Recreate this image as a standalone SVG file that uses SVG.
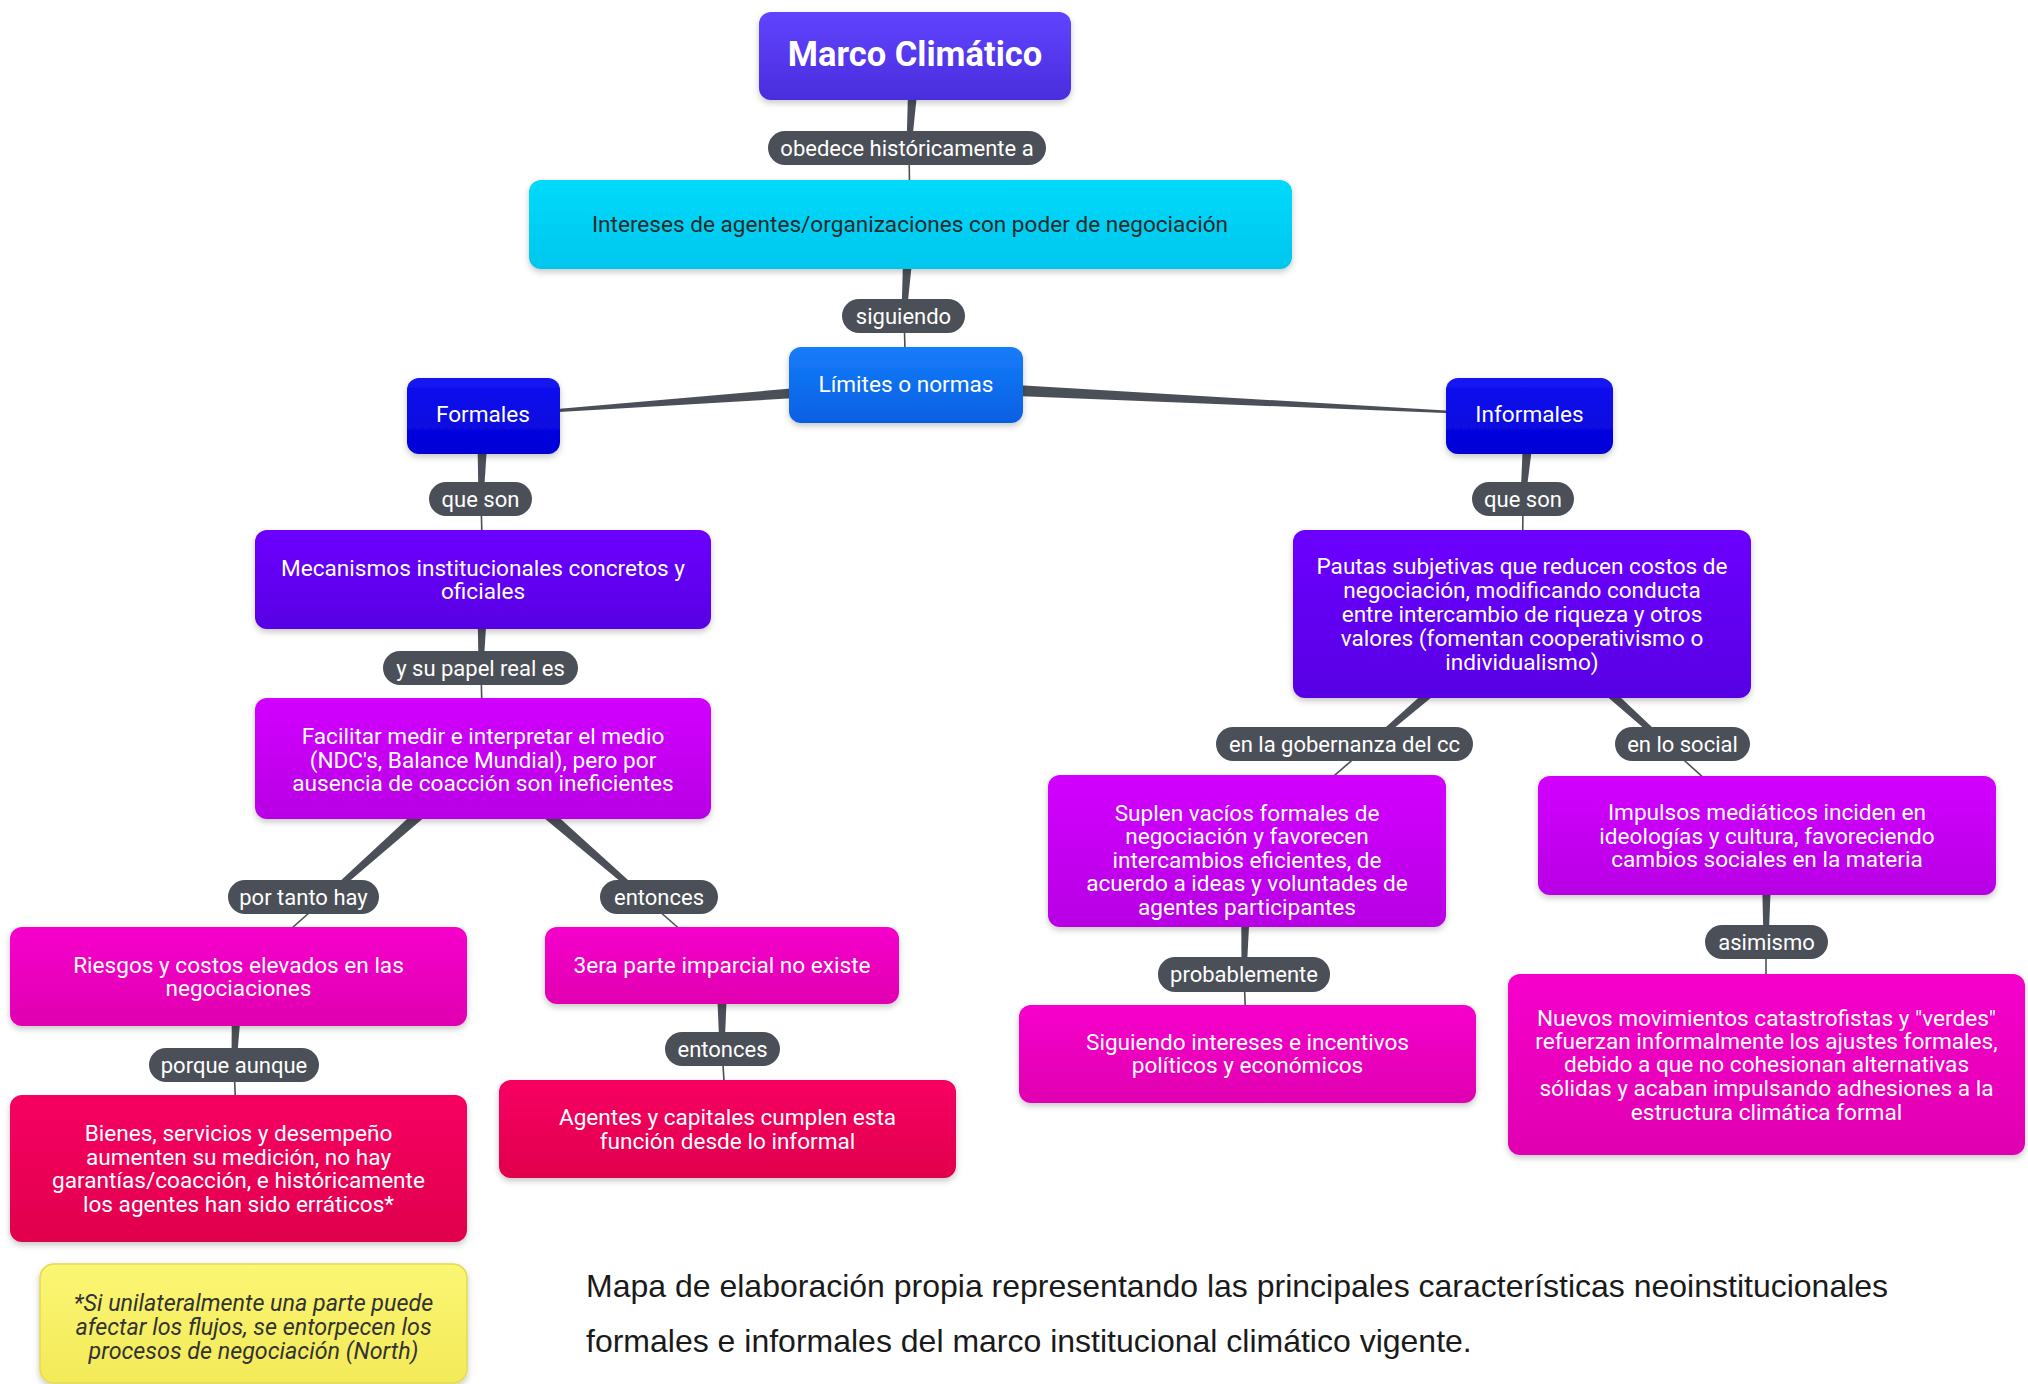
<svg xmlns="http://www.w3.org/2000/svg" width="2028" height="1384" viewBox="0 0 2028 1384">
<defs>
  <linearGradient id="gMarco" x1="0" y1="0" x2="0" y2="1"><stop offset="0" stop-color="#6044ff"/><stop offset="1" stop-color="#4a2ddc"/></linearGradient>
  <linearGradient id="gCyan" x1="0" y1="0" x2="0" y2="1"><stop offset="0" stop-color="#00dafc"/><stop offset="1" stop-color="#00c6ec"/></linearGradient>
  <linearGradient id="gLim" x1="0" y1="0" x2="0" y2="1"><stop offset="0" stop-color="#167cfa"/><stop offset="1" stop-color="#0660e2"/></linearGradient>
  <linearGradient id="gBlue" x1="0" y1="0" x2="0" y2="1"><stop offset="0" stop-color="#1414f2"/><stop offset="1" stop-color="#0000d6"/></linearGradient>
  <linearGradient id="gViolet" x1="0" y1="0" x2="0" y2="1"><stop offset="0" stop-color="#6c00ff"/><stop offset="1" stop-color="#5800e4"/></linearGradient>
  <linearGradient id="gPurple" x1="0" y1="0" x2="0" y2="1"><stop offset="0" stop-color="#d200ff"/><stop offset="1" stop-color="#b800e4"/></linearGradient>
  <linearGradient id="gPink" x1="0" y1="0" x2="0" y2="1"><stop offset="0" stop-color="#f600cc"/><stop offset="1" stop-color="#e000b0"/></linearGradient>
  <linearGradient id="gRed" x1="0" y1="0" x2="0" y2="1"><stop offset="0" stop-color="#f70062"/><stop offset="1" stop-color="#e0004c"/></linearGradient>
  <linearGradient id="gYellow" x1="0" y1="0" x2="0" y2="1"><stop offset="0" stop-color="#fbf674"/><stop offset="1" stop-color="#f3ea58"/></linearGradient>
  <filter id="sh" x="-10%" y="-20%" width="120%" height="150%">
    <feDropShadow dx="0" dy="3" stdDeviation="3" flood-color="#000" flood-opacity="0.22"/>
  </filter>
</defs>
<style>
  .box { filter: url(#sh); }
  .t { font-family: Roboto, "Noto Sans", sans-serif; font-size: 22.6px; fill: #ffffff; text-anchor: middle; }
  .dark { fill: #2b2b2b; }
  .note { font-family: Roboto, "Noto Sans", sans-serif; font-size: 23.3px; font-style: italic; fill: #333333; text-anchor: middle; }
  .title { font-family: Roboto, "Noto Sans", sans-serif; font-size: 34.5px; font-weight: bold; fill: #ffffff; text-anchor: middle; }
  .pill { fill: #4b4f58; }
  .lt { font-family: Roboto, "Noto Sans", sans-serif; font-size: 22px; fill: #ffffff; text-anchor: middle; }
  .thick { fill: #4b4f58; }
  .thin { stroke: #4b4f58; stroke-width: 1.6; fill: none; }
  .cap { font-family: "Liberation Sans", Arial, sans-serif; font-size: 32px; fill: #1a1a1a; }
</style>
<rect x="0" y="0" width="2028" height="1384" fill="#ffffff"/>

<g id="connectors">
  <polygon class="thick" points="909,56 921,56 911.5,147 906.5,147"/>
  <line class="thin" x1="909" y1="147" x2="910" y2="224"/>
  <polygon class="thick" points="904,224 916,224 906.5,315 901.5,315"/>
  <line class="thin" x1="904" y1="315" x2="906" y2="385"/>
  <polygon class="thick" points="905.5,378.5 483,415.5 483,416.5 906.5,391.5"/>
  <polygon class="thick" points="905.7,391.5 1530,416.5 1530,415.5 906.3,378.5"/>
  <polygon class="thick" points="477,416 489,416 483.5,499 478.5,499"/>
  <line class="thin" x1="481" y1="499" x2="483" y2="579"/>
  <polygon class="thick" points="477,579 489,579 483.5,667 478.5,667"/>
  <line class="thin" x1="481" y1="667" x2="483" y2="758"/>
  <polygon class="thick" points="478.3,752.8 326.3,894.1 329.7,897.9 487.7,763.2"/>
  <line class="thin" x1="328" y1="896" x2="238" y2="976"/>
  <polygon class="thick" points="478.4,763.3 641.4,898.9 644.6,895.1 487.6,752.7"/>
  <line class="thin" x1="643" y1="897" x2="722" y2="966"/>
  <polygon class="thick" points="232,976 244,976 236.5,1064 231.5,1064"/>
  <line class="thin" x1="234" y1="1064" x2="238" y2="1168"/>
  <polygon class="thick" points="716,966 728,966 724.5,1049 719.5,1049"/>
  <line class="thin" x1="722" y1="1049" x2="727" y2="1129"/>
  <polygon class="thick" points="1524,416 1536,416 1525.5,499 1520.5,499"/>
  <line class="thin" x1="1523" y1="499" x2="1522" y2="614"/>
  <polygon class="thick" points="1517.4,608.7 1370.4,741.1 1373.6,744.9 1526.6,619.3"/>
  <line class="thin" x1="1372" y1="743" x2="1247" y2="851"/>
  <polygon class="thick" points="1517.3,619.2 1663.3,744.9 1666.7,741.1 1526.7,608.8"/>
  <line class="thin" x1="1665" y1="743" x2="1767" y2="835"/>
  <polygon class="thick" points="1241,851 1253,851 1246.5,974 1241.5,974"/>
  <line class="thin" x1="1244" y1="974" x2="1247" y2="1053"/>
  <polygon class="thick" points="1761,835 1773,835 1768.5,941 1763.5,941"/>
  <line class="thin" x1="1766" y1="941" x2="1766" y2="1064"/>
</g>

<g id="labels">
  <g id="lbl-obedece"><rect class="pill" x="768" y="131" width="278" height="34" rx="17"/><text class="lt" x="907" y="155.5">obedece históricamente a</text></g>
  <g id="lbl-siguiendo"><rect class="pill" x="842" y="299" width="123" height="34" rx="17"/><text class="lt" x="903.5" y="323.5">siguiendo</text></g>
  <g id="lbl-queson1"><rect class="pill" x="429" y="482" width="103" height="34" rx="17"/><text class="lt" x="480.5" y="506.5">que son</text></g>
  <g id="lbl-papel"><rect class="pill" x="383" y="651" width="195" height="34" rx="17"/><text class="lt" x="480.5" y="675.5">y su papel real es</text></g>
  <g id="lbl-portanto"><rect class="pill" x="228" y="880" width="151" height="34" rx="17"/><text class="lt" x="303.5" y="904.5">por tanto hay</text></g>
  <g id="lbl-entonces1"><rect class="pill" x="600" y="880" width="118" height="34" rx="17"/><text class="lt" x="659" y="904.5">entonces</text></g>
  <g id="lbl-porque"><rect class="pill" x="149" y="1048" width="170" height="34" rx="17"/><text class="lt" x="234" y="1072.5">porque aunque</text></g>
  <g id="lbl-entonces2"><rect class="pill" x="665" y="1032" width="115" height="34" rx="17"/><text class="lt" x="722.5" y="1056.5">entonces</text></g>
  <g id="lbl-queson2"><rect class="pill" x="1472" y="482" width="102" height="34" rx="17"/><text class="lt" x="1523" y="506.5">que son</text></g>
  <g id="lbl-gobernanza"><rect class="pill" x="1216" y="727" width="257" height="34" rx="17"/><text class="lt" x="1344.5" y="751.5">en la gobernanza del cc</text></g>
  <g id="lbl-social"><rect class="pill" x="1615" y="727" width="135" height="34" rx="17"/><text class="lt" x="1682.5" y="751.5">en lo social</text></g>
  <g id="lbl-probablemente"><rect class="pill" x="1158" y="957" width="172" height="35" rx="17"/><text class="lt" x="1244" y="982">probablemente</text></g>
  <g id="lbl-asimismo"><rect class="pill" x="1705" y="925" width="123" height="34" rx="17"/><text class="lt" x="1766.5" y="949.5">asimismo</text></g>
</g>

<g id="n-marco"><rect class="box" x="759" y="12" width="312" height="88" rx="12" fill="url(#gMarco)"/><text class="title" x="915" y="66">Marco Climático</text></g>
<g id="n-intereses"><rect class="box" x="529" y="180" width="763" height="89" rx="12" fill="url(#gCyan)"/><text class="t dark" x="910" y="232">Intereses de agentes/organizaciones con poder de negociación</text></g>
<g id="n-limites"><rect class="box" x="789" y="347" width="234" height="76" rx="12" fill="url(#gLim)"/><text class="t" x="906" y="392">Límites o normas</text></g>
<g id="n-formales"><rect class="box" x="407" y="378" width="153" height="76" rx="12" fill="url(#gBlue)"/><text class="t" x="483" y="422">Formales</text></g>
<g id="n-informales"><rect class="box" x="1446" y="378" width="167" height="76" rx="12" fill="url(#gBlue)"/><text class="t" x="1529.5" y="422">Informales</text></g>
<g id="n-mecanismos"><rect class="box" x="255" y="530" width="456" height="99" rx="12" fill="url(#gViolet)"/>
  <text class="t" x="483"><tspan x="483" y="575.5">Mecanismos institucionales concretos y</tspan><tspan x="483" y="599">oficiales</tspan></text></g>
<g id="n-facilitar"><rect class="box" x="255" y="698" width="456" height="121" rx="12" fill="url(#gPurple)"/>
  <text class="t"><tspan x="483" y="744">Facilitar medir e interpretar el medio</tspan><tspan x="483" y="767.5">(NDC's, Balance Mundial), pero por</tspan><tspan x="483" y="791">ausencia de coacción son ineficientes</tspan></text></g>
<g id="n-riesgos"><rect class="box" x="10" y="927" width="457" height="99" rx="12" fill="url(#gPink)"/>
  <text class="t"><tspan x="238.5" y="972.5">Riesgos y costos elevados en las</tspan><tspan x="238.5" y="996">negociaciones</tspan></text></g>
<g id="n-tercera"><rect class="box" x="545" y="927" width="354" height="77" rx="12" fill="url(#gPink)"/><text class="t" x="722" y="973">3era parte imparcial no existe</text></g>
<g id="n-bienes"><rect class="box" x="10" y="1095" width="457" height="147" rx="12" fill="url(#gRed)"/>
  <text class="t"><tspan x="238.5" y="1141">Bienes, servicios y desempeño</tspan><tspan x="238.5" y="1164.5">aumenten su medición, no hay</tspan><tspan x="238.5" y="1188">garantías/coacción, e históricamente</tspan><tspan x="238.5" y="1211.5">los agentes han sido erráticos*</tspan></text></g>
<g id="n-agentes"><rect class="box" x="499" y="1080" width="457" height="98" rx="12" fill="url(#gRed)"/>
  <text class="t"><tspan x="727.5" y="1125">Agentes y capitales cumplen esta</tspan><tspan x="727.5" y="1148.5">función desde lo informal</tspan></text></g>
<g id="n-nota"><rect class="box" x="40" y="1264" width="427" height="119" rx="14" fill="url(#gYellow)" stroke="#e4da4e" stroke-width="1.5"/>
  <text class="note"><tspan x="253.5" y="1310.5">*Si unilateralmente una parte puede</tspan><tspan x="253.5" y="1334.5">afectar los flujos, se entorpecen los</tspan><tspan x="253.5" y="1358.5">procesos de negociación (North)</tspan></text></g>
<g id="n-pautas"><rect class="box" x="1293" y="530" width="458" height="168" rx="12" fill="url(#gViolet)"/>
  <text class="t"><tspan x="1522" y="573.5">Pautas subjetivas que reducen costos de</tspan><tspan x="1522" y="597.5">negociación, modificando conducta</tspan><tspan x="1522" y="621.5">entre intercambio de riqueza y otros</tspan><tspan x="1522" y="645.5">valores (fomentan cooperativismo o</tspan><tspan x="1522" y="669.5">individualismo)</tspan></text></g>
<g id="n-suplen"><rect class="box" x="1048" y="775" width="398" height="152" rx="12" fill="url(#gPurple)"/>
  <text class="t"><tspan x="1247" y="820.5">Suplen vacíos formales de</tspan><tspan x="1247" y="843.5">negociación y favorecen</tspan><tspan x="1247" y="867.5">intercambios eficientes, de</tspan><tspan x="1247" y="890.5">acuerdo a ideas y voluntades de</tspan><tspan x="1247" y="914.5">agentes participantes</tspan></text></g>
<g id="n-impulsos"><rect class="box" x="1538" y="776" width="458" height="119" rx="12" fill="url(#gPurple)"/>
  <text class="t"><tspan x="1767" y="819.5">Impulsos mediáticos inciden en</tspan><tspan x="1767" y="843.5">ideologías y cultura, favoreciendo</tspan><tspan x="1767" y="866.5">cambios sociales en la materia</tspan></text></g>
<g id="n-siguiendo"><rect class="box" x="1019" y="1005" width="457" height="98" rx="12" fill="url(#gPink)"/>
  <text class="t"><tspan x="1247.5" y="1049.5">Siguiendo intereses e incentivos</tspan><tspan x="1247.5" y="1073">políticos y económicos</tspan></text></g>
<g id="n-nuevos"><rect class="box" x="1508" y="974" width="517" height="181" rx="12" fill="url(#gPink)"/>
  <text class="t"><tspan x="1766.5" y="1025.5">Nuevos movimientos catastrofistas y "verdes"</tspan><tspan x="1766.5" y="1048.5">refuerzan informalmente los ajustes formales,</tspan><tspan x="1766.5" y="1071.5">debido a que no cohesionan alternativas</tspan><tspan x="1766.5" y="1096">sólidas y acaban impulsando adhesiones a la</tspan><tspan x="1766.5" y="1119.5">estructura climática formal</tspan></text></g>

<g id="caption">
  <text class="cap" x="586" y="1297">Mapa de elaboración propia representando las principales características neoinstitucionales</text>
  <text class="cap" x="586" y="1352">formales e informales del marco institucional climático vigente.</text>
</g>
</svg>
